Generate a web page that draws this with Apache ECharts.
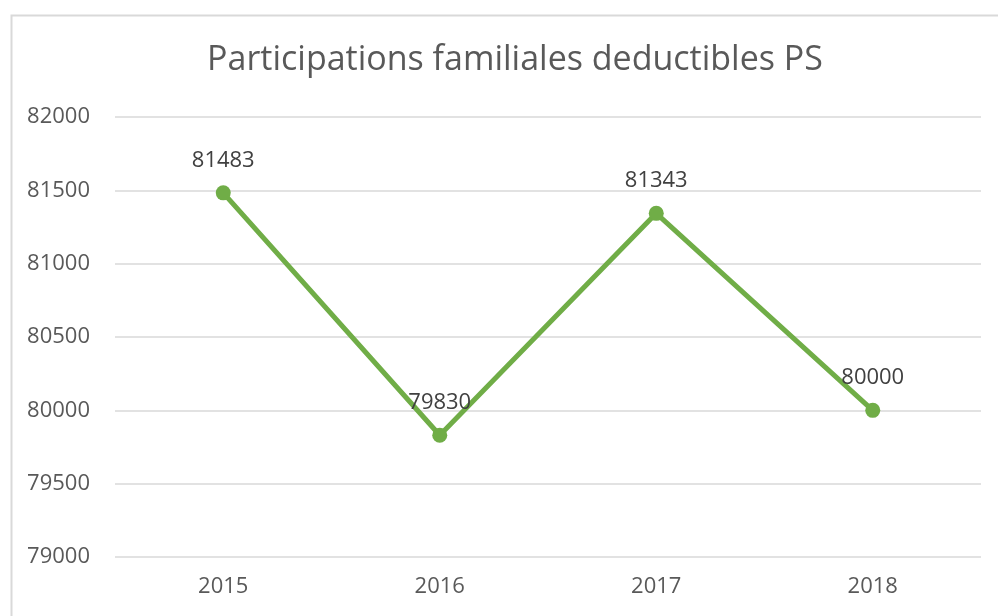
<!DOCTYPE html>
<html><head><meta charset="utf-8">
<script src="https://cdn.jsdelivr.net/npm/echarts@6/dist/echarts.min.js"></script>
<style>html,body{margin:0;padding:0;background:#fff}#c{width:998px;height:616px}</style>
</head><body><div id="c"></div>
<script>
const titleText = "Participations familiales deductibles PS";
const categories = ["2015", "2016", "2017", "2018"];
const values = [81483, 79830, 81343, 80000];
const yMin = 79000, yMax = 82000, yStep = 500;

const FONT = "'Open Sans', sans-serif";
const chart = echarts.init(document.getElementById('c'));
chart.setOption({
  backgroundColor: '#ffffff',
  animation: false,
  graphic: [{
    type: 'rect', left: 9, top: 13, z: -1,
    shape: { x: 0, y: 0, width: 1100, height: 700 },
    style: { fill: 'none', stroke: '#d9d9d9', lineWidth: 2 }
  }],
  title: {
    text: titleText, left: 510, top: 38, textAlign: 'center',
    textStyle: { fontFamily: FONT, fontSize: 34, fontWeight: 'normal', color: '#595959' }
  },
  grid: { left: 115, right: 17, top: 117, bottom: 59, containLabel: false },
  xAxis: {
    type: 'category', data: categories, boundaryGap: true,
    axisLine: { show: false }, axisTick: { show: false },
    axisLabel: { margin: 19, fontFamily: FONT, fontSize: 22, color: '#595959' },
    splitLine: { show: false }
  },
  yAxis: {
    type: 'value', min: yMin, max: yMax, interval: yStep,
    axisLine: { show: false }, axisTick: { show: false },
    axisLabel: { margin: 25, fontFamily: FONT, fontSize: 22, color: '#595959', formatter: v => String(v) },
    splitLine: { lineStyle: { color: '#d9d9d9', width: 1.5 } }
  },
  series: [{
    type: 'line', data: values,
    lineStyle: { color: '#70ad47', width: 5 },
    itemStyle: { color: '#70ad47' },
    symbol: 'circle', symbolSize: 15,
    label: { show: true, position: 'top', distance: 14, fontFamily: FONT, fontSize: 22, color: '#404040' }
  }]
});
</script></body></html>
